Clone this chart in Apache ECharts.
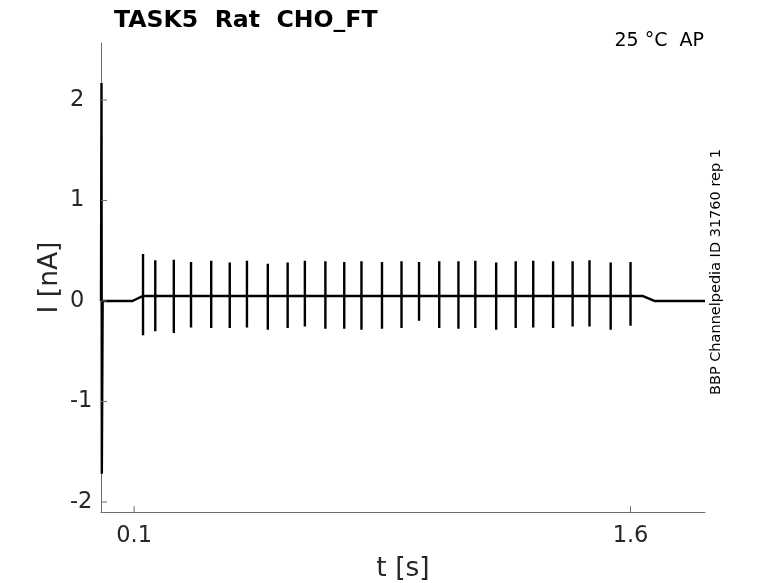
<!DOCTYPE html>
<html>
<head>
<meta charset="utf-8">
<script src="https://cdn.jsdelivr.net/npm/echarts@6/dist/echarts.min.js"></script>
<style>
html,body{margin:0;padding:0;background:#fff;}
#chart{width:778px;height:583px;}
</style>
</head>
<body>
<div id="chart"></div>
<script>
// ---- data ----
const titleText = 'TASK5  Rat  CHO_FT';
const cornerText = '25 °C  AP';
const sideText = 'BBP Channelpedia ID 31760 rep 1';
const xTicks = [0.1, 1.6];
const yTicks = [-2, -1, 0, 1, 2];
const xRange = [0, 1.825];
const yRange = [-2.1, 2.567];

// holding segments: [t, I]
const holdStart = [[0, 0.0], [0.0015, 2.17], [0.0025, -1.72], [0.005, 0.0], [0.095, 0.0], [0.125, 0.05]];
const holdEnd = [[1.636, 0.05], [1.672, 0.0], [1.825, 0.0]];
const stimLevel = 0.05;

// spike times [s], peaks [nA], troughs [nA]
const spikeT = [0.127, 0.164, 0.220, 0.272, 0.333, 0.389, 0.441, 0.504, 0.564, 0.616,
                0.678, 0.735, 0.787, 0.849, 0.908, 0.961, 1.022, 1.080, 1.131, 1.194,
                1.253, 1.306, 1.366, 1.425, 1.476, 1.540, 1.600];
const spikeTop = [0.468, 0.404, 0.411, 0.388, 0.401, 0.384, 0.401, 0.371, 0.384, 0.401,
                  0.394, 0.388, 0.394, 0.388, 0.394, 0.388, 0.394, 0.394, 0.401, 0.384,
                  0.394, 0.401, 0.394, 0.394, 0.404, 0.384, 0.388];
const spikeBot = [-0.342, -0.302, -0.318, -0.263, -0.269, -0.269, -0.263, -0.286, -0.269, -0.253,
                  -0.276, -0.276, -0.286, -0.276, -0.269, -0.196, -0.269, -0.276, -0.269, -0.286,
                  -0.269, -0.263, -0.269, -0.253, -0.253, -0.286, -0.246];

// build trace
const trace = holdStart.slice(0, holdStart.length - 1);
for (let i = 0; i < spikeT.length; i++) {
  const t = spikeT[i];
  trace.push([t, stimLevel]);
  trace.push([t, spikeTop[i]]);
  trace.push([t, spikeBot[i]]);
  trace.push([t, stimLevel]);
}
holdEnd.forEach(p => trace.push(p));

const txt = '#262626';
const axc = '#6e6e6e';
const font = 'DejaVu Sans';
const TICK_LEN = 6;

const chart = echarts.init(document.getElementById('chart'), null, {renderer: 'canvas'});
chart.setOption({
  animation: false,
  backgroundColor: '#ffffff',
  grid: {left: 101, right: 73, top: 43, bottom: 71, containLabel: false, outerBoundsMode: 'none'},
  xAxis: {
    type: 'value', min: xRange[0], max: xRange[1],
    name: 't [s]', nameLocation: 'middle', nameGap: 44, nameMoveOverlap: false,
    nameTextStyle: {fontFamily: font, fontSize: 26.5, color: txt},
    axisLine: {show: true, onZero: false, lineStyle: {color: axc, width: 1}},
    axisTick: {show: false},
    axisLabel: {customValues: xTicks, fontFamily: font, fontSize: 22.5, color: txt, margin: 13,
      formatter: v => String(v)},
    splitLine: {show: false}
  },
  yAxis: {
    type: 'value', min: yRange[0], max: yRange[1],
    name: 'I [nA]', nameLocation: 'middle', nameGap: 37.5, nameRotate: 90, nameMoveOverlap: false,
    nameTextStyle: {fontFamily: font, fontSize: 26.5, color: txt},
    axisLine: {show: true, onZero: false, lineStyle: {color: axc, width: 1}},
    axisTick: {show: false},
    axisLabel: {customValues: yTicks, fontFamily: font, fontSize: 22.5, color: txt, margin: 31, align: 'left',
      formatter: v => String(v)},
    splitLine: {show: false}
  },
  series: [
    {
      type: 'line', data: trace, showSymbol: false, sampling: 'none',
      lineStyle: {color: '#000000', width: 2.4}, silent: true, z: 3
    },
    {
      // inward tick marks on the x axis
      type: 'custom', silent: true, z: 4,
      data: xTicks.map(v => [v]),
      renderItem: function (params, api) {
        const p = api.coord([api.value(0), yRange[0]]);
        return {type: 'line', shape: {x1: p[0], y1: p[1], x2: p[0], y2: p[1] - TICK_LEN},
                style: {stroke: axc, lineWidth: 1}};
      }
    },
    {
      // inward tick marks on the y axis
      type: 'custom', silent: true, z: 4,
      data: yTicks.map(v => [xRange[0], v]),
      renderItem: function (params, api) {
        const p = api.coord([xRange[0], api.value(1)]);
        return {type: 'line', shape: {x1: p[0], y1: p[1], x2: p[0] + TICK_LEN, y2: p[1]},
                style: {stroke: axc, lineWidth: 1}};
      }
    }
  ],
  graphic: [
    {type: 'text', left: 114, top: 9, style: {text: titleText, font: 'bold 23.6px "DejaVu Sans"', fill: '#000'}},
    {type: 'text', right: 74, top: 32, style: {text: cornerText, font: '19px "DejaVu Sans"', fill: '#000'}},
    {type: 'text', x: 716, y: 272, rotation: Math.PI / 2,
     style: {text: sideText, font: '14.5px "DejaVu Sans"', fill: '#000', align: 'center', verticalAlign: 'middle'}}
  ]
});
</script>
</body>
</html>
